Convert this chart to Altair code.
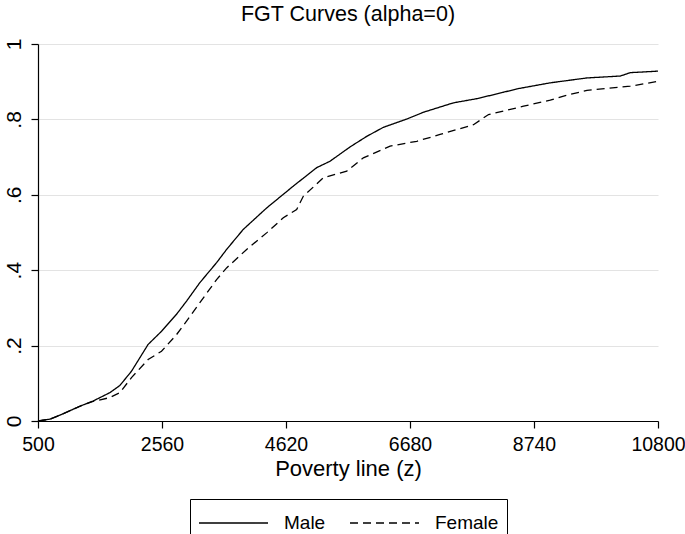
import altair as alt
import pandas as pd

# Poverty lines (z) and FGT(alpha=0) headcount values
male_z = [500, 700, 900, 1193, 1415, 1692, 1859, 2053, 2329, 2552, 2801, 2968,
          3189, 3467, 3633, 3909, 4298, 4741, 5130, 5351, 5684, 5961, 6238,
          6627, 6904, 7403, 7792, 8234, 8456, 9010, 9620, 10174, 10340, 10800]
male_p = [0.0, 0.005, 0.018, 0.039, 0.053, 0.075, 0.094, 0.132, 0.203, 0.238,
          0.283, 0.318, 0.367, 0.42, 0.455, 0.508, 0.565, 0.623, 0.672, 0.689,
          0.727, 0.755, 0.779, 0.801, 0.819, 0.844, 0.855, 0.872, 0.881, 0.897,
          0.91, 0.915, 0.924, 0.928]

female_z = [500, 700, 900, 1193, 1415, 1692, 1859, 2053, 2329, 2552, 2801,
            2968, 3189, 3467, 3633, 3966, 4298, 4575, 4797, 4907, 5240, 5629,
            5905, 6349, 6793, 7180, 7735, 7985, 8567, 9010, 9232, 9620, 10340,
            10800]
female_p = [0.0, 0.005, 0.018, 0.039, 0.052, 0.062, 0.075, 0.115, 0.163, 0.185,
            0.229, 0.265, 0.314, 0.375, 0.406, 0.455, 0.499, 0.539, 0.561,
            0.596, 0.645, 0.663, 0.698, 0.729, 0.742, 0.76, 0.786, 0.813, 0.835,
            0.851, 0.862, 0.877, 0.888, 0.901]

groups = ["Male", "Female"]
x_ticks = [500, 2560, 4620, 6680, 8740, 10800]
y_ticks = [0, 0.2, 0.4, 0.6, 0.8, 1]

df = pd.concat([
    pd.DataFrame({"z": male_z, "p": male_p, "group": groups[0], "k": 0}),
    pd.DataFrame({"z": female_z, "p": female_p, "group": groups[1], "k": 1}),
], ignore_index=True)

FONT = "Liberation Sans"

chart = alt.Chart(df).mark_line(color="black", strokeWidth=1.3).encode(
    x=alt.X("z:Q",
            scale=alt.Scale(domain=[500, 10800], nice=False, zero=False),
            axis=alt.Axis(values=x_ticks, title="Poverty line (z)", grid=False,
                          format="d", labelFontSize=19.5, titleFontSize=22,
                          labelPadding=7, titlePadding=5, tickSize=7,
                          labelFlush=False)),
    y=alt.Y("p:Q",
            scale=alt.Scale(domain=[0, 1], nice=False),
            axis=alt.Axis(values=y_ticks, title=None, grid=True,
                          gridColor="#e3e3e3", gridWidth=1.2,
                          labelExpr="datum.value == 0 ? '0' : datum.value == 1 ? '1' : replace(format(datum.value, '.1f'), '0.', '.')",
                          labelAngle=270, labelAlign="center",
                          labelBaseline="alphabetic", labelFontSize=21,
                          labelPadding=11, tickSize=7)),
    strokeDash=alt.StrokeDash(
        "group:N",
        scale=alt.Scale(domain=groups, range=[[1, 0], [8, 5]]),
        legend=alt.Legend(title=None, orient="none", legendX=152, legendY=455,
                          direction="horizontal", strokeColor="black",
                          padding=8, symbolType="M-2.3,0H2.3", symbolSize=900,
                          symbolOffset=19.5, labelOffset=34.5,
                          symbolStrokeColor="black", symbolStrokeWidth=1.3,
                          symbolDash=[9, 5],
                          labelFontSize=19, columnPadding=21)),
    detail="k:N",
).properties(
    width=620, height=377,
    title=alt.Title("FGT Curves (alpha=0)", fontSize=21.5, fontWeight="normal",
                    font=FONT, color="black", offset=13),
    autosize=alt.AutoSizeParams(type="none"),
    padding={"left": 38, "top": 44, "right": 27, "bottom": 113},
).configure_view(
    stroke=None
).configure_axis(
    labelFont=FONT, titleFont=FONT, labelColor="black", titleColor="black",
    domainColor="black", tickColor="black", titleFontWeight="normal",
    domainWidth=1.2, tickWidth=1.2
).configure_legend(
    labelFont=FONT, labelColor="black"
)

chart.save("out.html", embed_options={"renderer": "svg", "actions": False})
